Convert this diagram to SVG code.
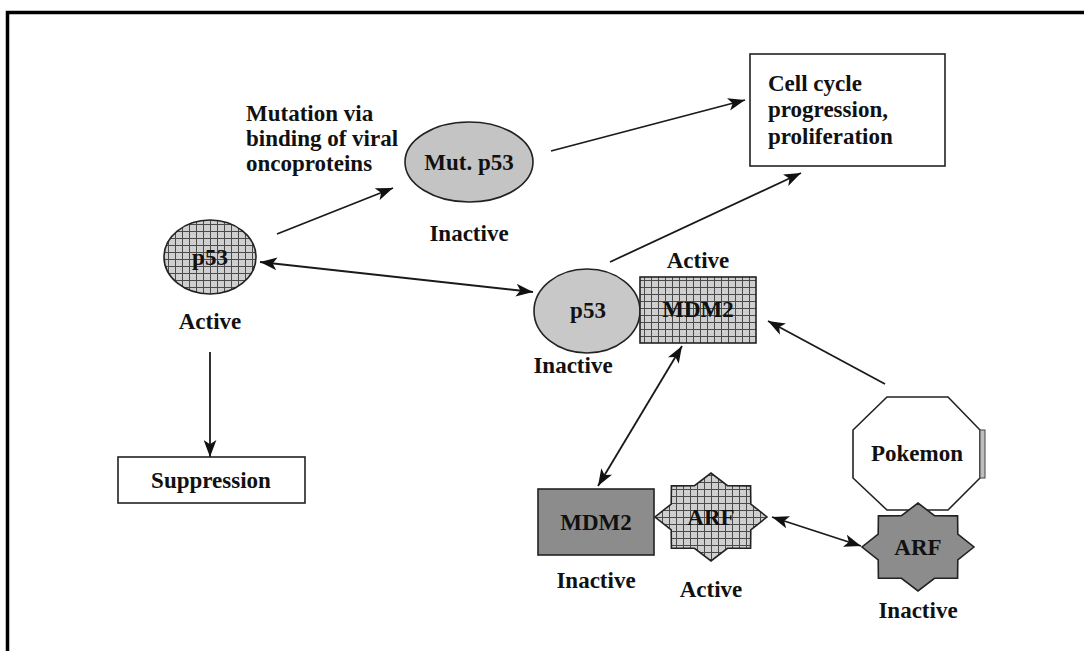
<svg xmlns="http://www.w3.org/2000/svg" width="1084" height="651" viewBox="0 0 1084 651">
  <defs>
    <pattern id="hatch" width="7" height="7" patternUnits="userSpaceOnUse">
      <rect width="7" height="7" fill="#cfcfcf"/>
      <path d="M0 0.5H7M0.5 0V7" stroke="#4a4a4a" stroke-width="1"/>
    </pattern>
    <marker id="ah" viewBox="0 0 16 12" refX="16" refY="6" markerWidth="17" markerHeight="13" markerUnits="userSpaceOnUse" orient="auto-start-reverse">
      <path d="M0,0 L16,6 L0,12 L4,6 z" fill="#111"/>
    </marker>
  </defs>
  <style>
    .t { font-family: "Liberation Serif", "Times New Roman", serif; font-weight: bold; font-size: 23px; fill: #111; }
    .c { text-anchor: middle; }
    .s { stroke: #222; stroke-width: 1.6; }
    .ln { stroke: #1a1a1a; stroke-width: 1.8; fill: none; }
  </style>
  <rect width="1084" height="651" fill="#fff"/>
  <!-- frame (cropped) -->
  <path d="M7.5 651 V12.5 H1084" fill="none" stroke="#000" stroke-width="3.5"/>

  <g id="connectors">
    <line class="ln" x1="277" y1="234" x2="393" y2="188" marker-end="url(#ah)"/>
    <line class="ln" x1="551" y1="151" x2="745" y2="100" marker-end="url(#ah)"/>
    <line class="ln" x1="610" y1="262" x2="801" y2="173" marker-end="url(#ah)"/>
    <line class="ln" x1="260" y1="262" x2="533" y2="292" marker-start="url(#ah)" marker-end="url(#ah)"/>
    <line class="ln" x1="210" y1="352" x2="210" y2="457" marker-end="url(#ah)"/>
    <line class="ln" x1="885" y1="384" x2="768" y2="321" marker-end="url(#ah)"/>
    <line class="ln" x1="598" y1="486" x2="682" y2="346" marker-start="url(#ah)" marker-end="url(#ah)"/>
    <line class="ln" x1="772" y1="517" x2="861" y2="546" marker-start="url(#ah)" marker-end="url(#ah)"/>
  </g>

  <g id="mutation-label">
    <text class="t" x="246" y="121">Mutation via</text>
    <text class="t" x="246" y="146">binding of viral</text>
    <text class="t" x="246" y="171">oncoproteins</text>
  </g>

  <g id="p53-active">
    <ellipse cx="210" cy="257" rx="46" ry="37" fill="url(#hatch)" class="s"/>
    <text class="t c" x="210" y="265">p53</text>
    <text class="t c" x="210" y="329">Active</text>
  </g>

  <g id="mut-p53">
    <ellipse cx="469" cy="162" rx="64" ry="40" fill="#c4c4c4" class="s"/>
    <text class="t c" x="469" y="170">Mut. p53</text>
    <text class="t c" x="469" y="241">Inactive</text>
  </g>

  <g id="cell-cycle">
    <rect x="750" y="54" width="195" height="112" fill="#fff" class="s"/>
    <text class="t" x="768" y="91">Cell cycle</text>
    <text class="t" x="768" y="117">progression,</text>
    <text class="t" x="768" y="144">proliferation</text>
  </g>

  <g id="suppression">
    <rect x="118" y="457" width="187" height="46" fill="#fff" class="s"/>
    <text class="t c" x="211" y="488">Suppression</text>
  </g>

  <g id="p53-inactive">
    <ellipse cx="587" cy="311" rx="53" ry="42" fill="#c8c8c8" class="s"/>
    <text class="t c" x="588" y="318">p53</text>
    <text class="t c" x="573" y="373">Inactive</text>
  </g>

  <g id="mdm2-active">
    <rect x="640" y="277" width="116" height="66" fill="url(#hatch)" class="s"/>
    <text class="t c" x="698" y="317">MDM2</text>
    <text class="t c" x="698" y="268">Active</text>
  </g>

  <g id="mdm2-inactive">
    <rect x="538" y="489" width="116" height="66" fill="#8c8c8c" class="s"/>
    <text class="t c" x="596" y="530">MDM2</text>
    <text class="t c" x="596" y="588">Inactive</text>
  </g>

  <g id="arf-active">
    <polygon transform="translate(711 517)" points="56,0 39.8,13 39.6,31.1 16.5,31.3 0,44 -16.5,31.3 -39.6,31.1 -39.8,13 -56,0 -39.8,-13 -39.6,-31.1 -16.5,-31.3 0,-44 16.5,-31.3 39.6,-31.1 39.8,-13" fill="url(#hatch)" class="s"/>
    <text class="t c" x="711" y="525">ARF</text>
    <text class="t c" x="711" y="597">Active</text>
  </g>

  <g id="pokemon">
    <polygon points="887,397 948,397 980,430 980,478 948,510 887,510 853,478 853,430" fill="#fff" class="s"/>
    <rect x="980" y="430" width="5" height="48" fill="#bdbdbd" stroke="#444" stroke-width="1"/>
    <text class="t c" x="917" y="461">Pokemon</text>
  </g>

  <g id="arf-inactive">
    <polygon transform="translate(918 547)" points="56,0 39.8,13 39.6,31.1 16.5,31.3 0,44 -16.5,31.3 -39.6,31.1 -39.8,13 -56,0 -39.8,-13 -39.6,-31.1 -16.5,-31.3 0,-44 16.5,-31.3 39.6,-31.1 39.8,-13" fill="#8c8c8c" class="s"/>
    <text class="t c" x="918" y="555">ARF</text>
    <text class="t c" x="918" y="618">Inactive</text>
  </g>
</svg>
